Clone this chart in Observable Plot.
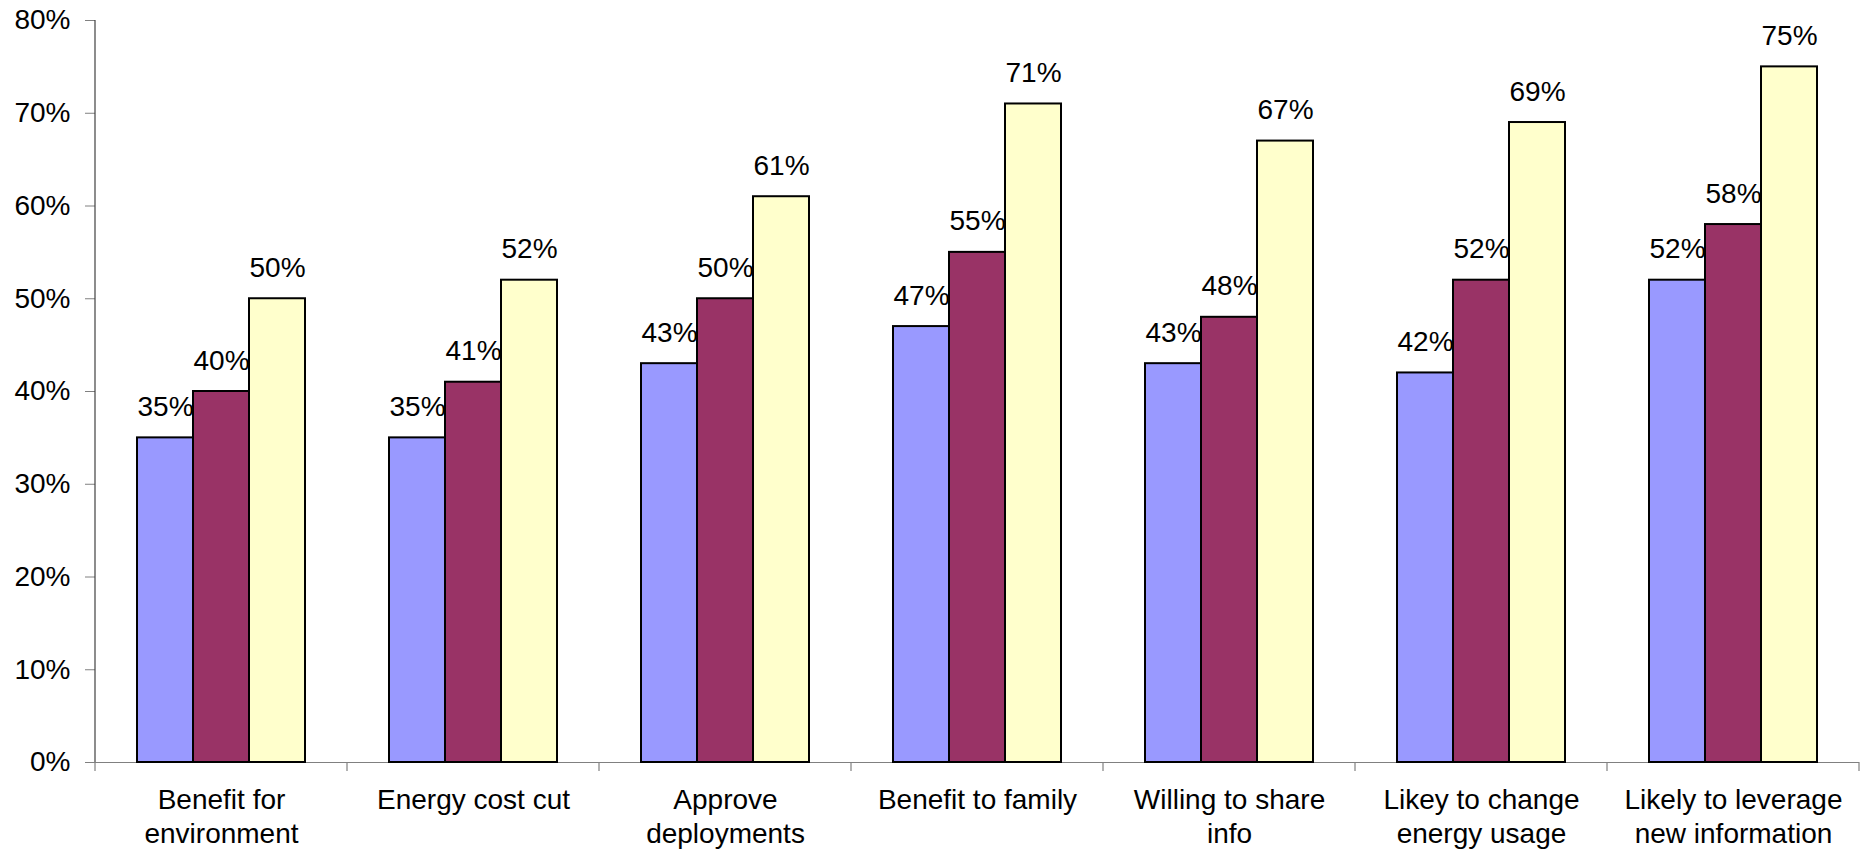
<!DOCTYPE html>
<html><head><meta charset="utf-8">
<script src="https://cdn.jsdelivr.net/npm/d3@7"></script>
<script src="https://cdn.jsdelivr.net/npm/@observablehq/plot@0.6"></script>
<style>html,body{margin:0;padding:0;background:#fff} svg{display:block}</style>
</head><body><div id="chart"></div>
<script>
const categories = ["Benefit for\nenvironment", "Energy cost cut", "Approve\ndeployments", "Benefit to family", "Willing to share\ninfo", "Likey to change\nenergy usage", "Likely to leverage\nnew information"];
const seriesNames = ["Series 1", "Series 2", "Series 3"];
const series1 = [35, 35, 43, 47, 43, 42, 52];
const series2 = [40, 41, 50, 55, 48, 52, 58];
const series3 = [50, 52, 61, 71, 67, 69, 75];
const seriesColors = ["#9999FF", "#993366", "#FFFFCC"];
const yTicks = [0, 10, 20, 30, 40, 50, 60, 70, 80];

const seriesValues = [series1, series2, series3];
const data = categories.flatMap((c, i) => seriesNames.map((s, j) => ({category: c, series: s, value: seriesValues[j][i]})));

const boundaryTicks = Plot.ruleY(categories, {
  fx: d => d,
  y: () => 0,
  render(index, scales, values, dims, context) {
    const g = d3.create("svg:g");
    const y0 = scales.y(0);
    const left = dims.marginLeft;
    const right = dims.width - dims.marginRight;
    for (const i of index) {
      const cat = categories[i];
      g.append("line").attr("x1", left).attr("x2", left).attr("y1", y0).attr("y2", y0 + 9)
        .attr("stroke", "#808080").attr("stroke-width", 1.2);
      if (cat === categories[categories.length - 1]) {
        g.append("line").attr("x1", right).attr("x2", right).attr("y1", y0).attr("y2", y0 + 9)
          .attr("stroke", "#808080").attr("stroke-width", 1.2);
      }
      if (cat === categories[0]) {
        g.append("line").attr("x1", left).attr("x2", left).attr("y1", scales.y(80)).attr("y2", y0)
          .attr("stroke", "#404040").attr("stroke-width", 1.2);
      }
    }
    return g.node();
  }
});

const chart = Plot.plot({
  width: 1863,
  height: 853,
  marginLeft: 95,
  marginRight: 4,
  marginTop: 20,
  marginBottom: 91,
  style: {fontFamily: "'Liberation Sans', Arial, sans-serif", fontSize: "28px", color: "#000", background: "#fff"},
  fx: {domain: categories, padding: 0, label: null},
  x: {domain: seriesNames, paddingInner: 0, paddingOuter: 0.72, axis: null},
  y: {domain: [0, 80], label: null},
  color: {domain: seriesNames, range: seriesColors},
  marks: [
    Plot.ruleY([0], {stroke: "#808080", strokeWidth: 1.2}),
    Plot.barY(data, {fx: "category", x: "series", y: "value", fill: "series", stroke: "#000", strokeWidth: 2}),
    Plot.text(data, {fx: "category", x: "series", y: "value", text: d => d.value + "%", lineAnchor: "bottom", dy: -22, fill: "#000"}),
    Plot.axisY({ticks: yTicks, tickSize: 10, tickPadding: 15, tickFormat: d => d + "%", stroke: "#808080", fill: "#000", label: null}),
    Plot.axisFx({anchor: "bottom", tickSize: 0, tickPadding: 22, lineHeight: 1.22, label: null, fill: "#000"}),
    boundaryTicks
  ]
});
document.getElementById("chart").appendChild(chart);
</script>
</body></html>
